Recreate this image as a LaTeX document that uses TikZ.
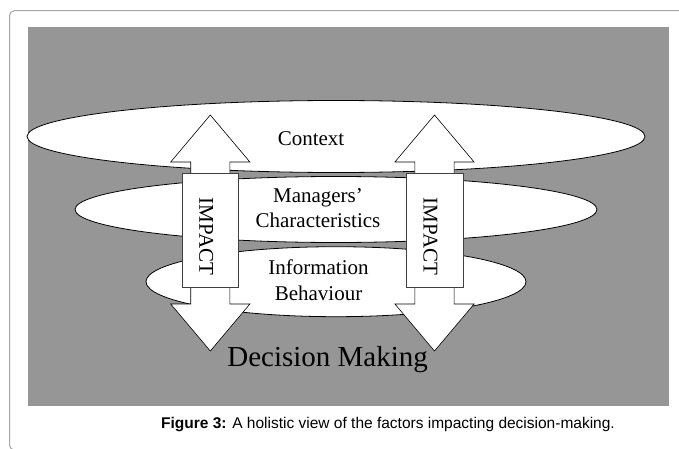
\documentclass[tikz,border=0pt]{standalone}
\usepackage{fontspec}
\setmainfont{Liberation Serif}
\setsansfont{Liberation Sans}
\usetikzlibrary{shapes.geometric}

\definecolor{backgray}{RGB}{150,150,150}
\definecolor{framegray}{RGB}{165,165,165}

\begin{document}
\begin{tikzpicture}[x=1pt, y=1pt, inner sep=0pt, outer sep=0pt,
    every node/.style={font=\fontsize{21}{25.5}\selectfont}, align=center]

  \tikzstyle{layer}=[ellipse, draw=black, fill=white, line width=0.8pt]
  \tikzstyle{impact}=[draw=black, fill=white, line width=0.6pt]
  \tikzstyle{impactbox}=[draw=black!75, fill=white, line width=0.6pt,
    minimum width=56.6pt, minimum height=114pt]

  \useasboundingbox (0,0) rectangle (679,448);
  \clip (0,0) rectangle (679,448);
  \draw[framegray, line width=1pt, rounded corners=5pt] (9.5,437.3) rectangle (690,-2);
  \fill[backgray] (28.3,42) rectangle (669,421.3);

  \node[layer, minimum width=618pt, minimum height=72pt] (CONTEXT) at (336,311.5) {};
  \node[layer, minimum width=522pt, minimum height=66pt] (MANAGERS) at (336,238.5) {};
  \node[layer, minimum width=380pt, minimum height=70pt] (INFO) at (336,166.3) {};

  \draw[impact] (210.3,333) -- (249.9,286) -- (229.9,286) -- (229.9,144)
    -- (249.9,144) -- (210.3,97) -- (170.7,144) -- (190.7,144)
    -- (190.7,286) -- (170.7,286) -- cycle;
  \draw[impact] (434.5,333) -- (474.1,286) -- (454.1,286) -- (454.1,144)
    -- (474.1,144) -- (434.5,97) -- (394.9,144) -- (414.9,144)
    -- (414.9,286) -- (394.9,286) -- cycle;

  \node[impactbox] (IMPACTL) at (210.3,217.6) {};
  \node[impactbox] (IMPACTR) at (434.5,217.6) {};
  \node[rotate=-90] (IMPACTLTXT) at (206.3,211.3) {IMPACT};
  \node[rotate=-90] (IMPACTRTXT) at (430.5,211.3) {IMPACT};

  \node[anchor=base] (CONTEXTTXT) at (311,303) {Context};
  \node[anchor=base] (MANAGERSTXT) at (318,220.3) {Managers'\\Characteristics};
  \node[anchor=base] (INFOTXT) at (318.5,148) {Information\\Behaviour};
  \node[anchor=base, font=\fontsize{29}{33}\selectfont] (DECISION) at (327.6,81.3)
    {Decision Making};

  \node[anchor=base, font=\sffamily\fontsize{15.5}{18}\selectfont] (CAPTION) at (388,20)
    {\textbf{Figure 3:} A holistic view of the factors impacting decision-making.};
\end{tikzpicture}
\end{document}
